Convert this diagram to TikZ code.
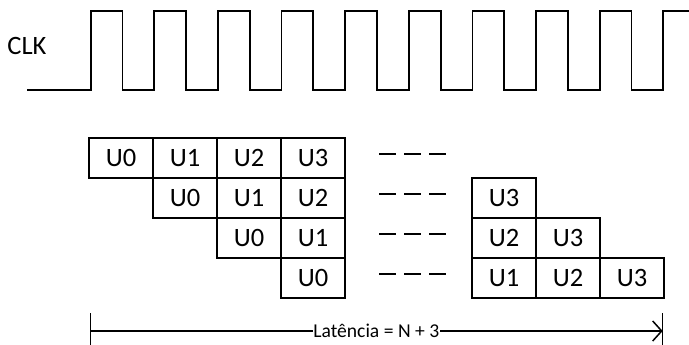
\documentclass[tikz,border=0pt]{standalone}
\usepackage{fontspec}
\setmainfont{Carlito}
\usetikzlibrary{arrows.meta}
\begin{document}
\begin{tikzpicture}[x=1pt,y=-1pt,
  wave/.style={line width=1.8pt,line join=miter},
  cell/.style={draw,line width=1.8pt,minimum width=64pt,minimum height=40pt,inner sep=0pt,
    font=\fontsize{26.5}{30}\selectfont},
  dots/.style={line width=2pt,dash pattern=on 17pt off 8pt},
  lat/.style={line width=1.5pt},
  latlabel/.style={fill=white,inner sep=0.3pt,font=\fontsize{19.6}{23}\selectfont}]
\useasboundingbox (0,0) rectangle (689,345);
% clock
\node (clk) at (27,46) {\fontsize{26.5}{30}\selectfont CLK};
\def\lo{90}\def\hi{10.7}
\draw[wave] (27,\lo)
  \foreach \k in {0,...,8}{
    -- ({90.7+63.62*\k},\lo) -- ({90.7+63.62*\k},\hi)
    -- ({122.5+63.62*\k},\hi) -- ({122.5+63.62*\k},\lo)}
  -- (663.3,\lo) -- (663.3,\hi) -- (690,\hi);
% left block
\foreach \r/\c/\t in {0/0/U0,0/1/U1,0/2/U2,0/3/U3,
                      1/1/U0,1/2/U1,1/3/U2,
                      2/2/U0,2/3/U1,
                      3/3/U0}{
  \node[cell] (a\r\c) at ({121+64*\c},{158+40*\r}) {\t};
}
% right block
\foreach \r/\c/\t in {1/0/U3,
                      2/0/U2,2/1/U3,
                      3/0/U1,3/1/U2,3/2/U3}{
  \node[cell] (b\r\c) at ({504+64*\c},{158+40*\r}) {\t};
}
% dashes
\foreach \r in {0,...,3}{
  \coordinate (d\r a) at (379,{154.3+40*\r});
  \coordinate (d\r b) at (446,{154.3+40*\r});
  \draw[dots] (d\r a) -- (d\r b);
}
% latency
\coordinate (L1) at (90.7,313);
\coordinate (L2) at (90.7,346);
\coordinate (R1) at (662.7,313);
\coordinate (R2) at (662.7,346);
\coordinate (La) at (90.7,331);
\coordinate (Ra) at (662.7,331);
\draw[lat] (L1) -- (L2);
\draw[lat] (R1) -- (R2);
\draw[lat,-{Straight Barb[length=9pt,width=20pt,line width=1.5pt]}] (La) -- (Ra);
\node[latlabel] (lt) at (376.3,331) {Latência = N + 3};
\end{tikzpicture}
\end{document}
